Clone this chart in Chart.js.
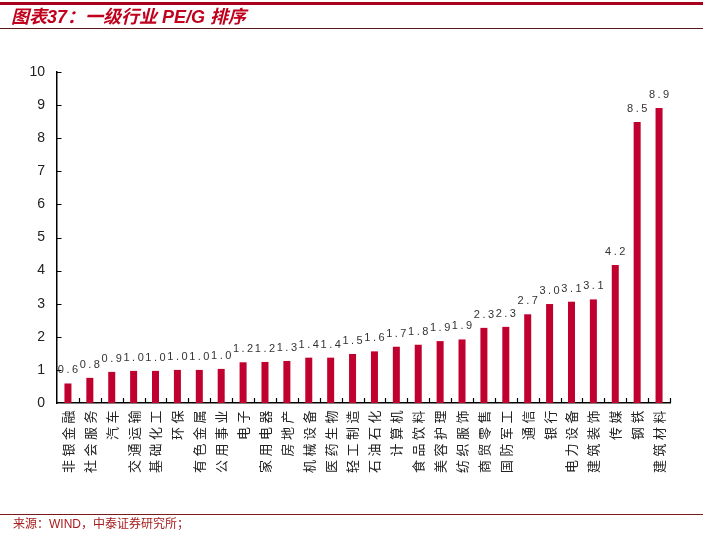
<!DOCTYPE html>
<html><head><meta charset="utf-8">
<script src="https://cdn.jsdelivr.net/npm/chart.js@4.4.0/dist/chart.umd.min.js"></script>
<style>
html,body{margin:0;padding:0;background:#fff;}
#wrap{position:relative;width:703px;height:535px;overflow:hidden;background:#fff;}
canvas{position:absolute;left:0;top:0;}
#topbar{position:absolute;left:0;top:2px;width:703px;height:3px;background:#a8001c;}
#title{position:absolute;left:11px;top:5px;font:italic bold 18px "Liberation Sans","Noto Sans CJK SC",sans-serif;color:#c0001c;line-height:24px;white-space:nowrap;}
#tline{position:absolute;left:0;top:28px;width:703px;height:1px;background:#5a1a1a;}
#fline{position:absolute;left:0;top:514px;width:703px;height:1px;background:#7a1a1a;}
#src{position:absolute;left:13px;top:516px;font:12px "Liberation Sans","Noto Sans CJK SC",sans-serif;color:#a81c1c;line-height:16px;white-space:nowrap;}
</style></head>
<body>
<div id="wrap">
<canvas id="c" width="703" height="535"></canvas>
<div id="topbar"></div>
<div id="title">图表37：一级行业 PE/G 排序</div>
<div id="tline"></div>
<div id="fline"></div>
<div id="src">来源：WIND，中泰证券研究所；</div>
</div>
<script>
const categories = ["非银金融","社会服务","汽车","交通运输","基础化工","环保","有色金属","公用事业","电子","家用电器","房地产","机械设备","医药生物","轻工制造","石油石化","计算机","食品饮料","美容护理","纺织服饰","商贸零售","国防军工","通信","银行","电力设备","建筑装饰","传媒","钢铁","建筑材料"];
const pegValues = [0.59,0.76,0.94,0.97,0.97,1.00,1.00,1.03,1.23,1.24,1.27,1.37,1.37,1.48,1.56,1.70,1.76,1.87,1.92,2.27,2.30,2.68,2.99,3.06,3.13,4.17,8.49,8.91];
const yTicks = [0,1,2,3,4,5,6,7,8,9,10];

const barColor = '#c0002e';

const helperPlugin = {
  id: 'helper',
  afterLayout(chart) {
    const xs = chart.scales.x;
    if (xs && !xs._lsPatched) {
      const orig = xs.drawLabels.bind(xs);
      xs.drawLabels = function(area) {
        const c = this.ctx;
        c.save();
        c.letterSpacing = '3.5px';
        orig(area);
        c.restore();
      };
      xs._lsPatched = true;
    }
  },
  afterDatasetsDraw(chart) {
    const ctx = chart.ctx;
    const xs = chart.scales.x, ys = chart.scales.y;
    ctx.save();
    // inward tick marks
    ctx.strokeStyle = '#000';
    ctx.lineWidth = 1.2;
    ctx.beginPath();
    yTicks.forEach(v => {
      if (v === 0) return;
      const y = Math.round(ys.getPixelForValue(v)) + 0.5;
      ctx.moveTo(xs.left, y);
      ctx.lineTo(xs.left + 4.5, y);
    });
    for (let i = 1; i <= categories.length; i++) {
      const x = Math.round(xs.getPixelForValue(i - 0.5)) + 0.5;
      ctx.moveTo(x, ys.bottom);
      ctx.lineTo(x, ys.bottom - 5);
    }
    ctx.stroke();
    // data labels
    const meta = chart.getDatasetMeta(0);
    ctx.fillStyle = '#333';
    ctx.font = '11px "Liberation Sans", sans-serif';
    ctx.letterSpacing = '2.5px';
    ctx.textAlign = 'center';
    ctx.textBaseline = 'alphabetic';
    meta.data.forEach((el, i) => {
      ctx.fillText(pegValues[i].toFixed(1), el.x + 1.25, el.y - 10);
    });
    ctx.restore();
  }
};

new Chart(document.getElementById('c'), {
  type: 'bar',
  data: {
    labels: categories,
    datasets: [{
      data: pegValues,
      backgroundColor: barColor,
      borderWidth: 0,
      barPercentage: 0.32,
      categoryPercentage: 1.0
    }]
  },
  options: {
    responsive: false,
    animation: false,
    events: [],
    layout: { padding: { left: 0, top: 72, right: 33, bottom: 0 } },
    plugins: { legend: { display: false }, tooltip: { enabled: false }, title: { display: false } },
    scales: {
      x: {
        grid: { display: false, drawTicks: false },
        border: { display: true, color: '#000', width: 1.5 },
        ticks: {
          autoSkip: false,
          maxRotation: 90,
          minRotation: 90,
          padding: 4,
          color: '#222',
          font: { family: '"Noto Sans CJK SC", sans-serif', size: 13 }
        },
        afterFit(s) { s.height = 132; }
      },
      y: {
        min: 0,
        max: 10,
        grid: { display: false, drawTicks: false },
        border: { display: true, color: '#000', width: 1.5 },
        ticks: {
          stepSize: 1,
          padding: 12,
          color: '#222',
          font: { family: '"Liberation Sans", Arial, sans-serif', size: 14 },
          callback: (v) => v
        },
        afterFit(s) { s.width = 57; }
      }
    }
  },
  plugins: [helperPlugin]
});
</script>
</body></html>
